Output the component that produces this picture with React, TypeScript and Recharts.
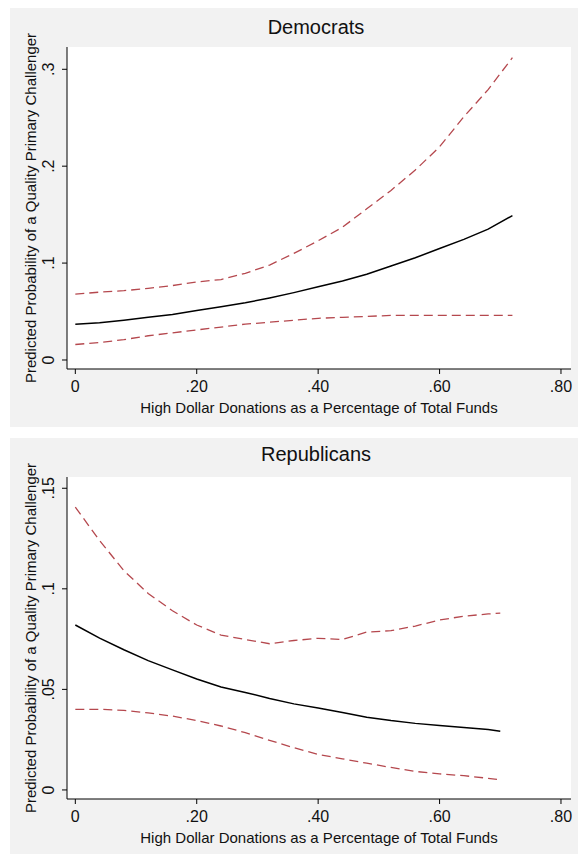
import { LineChart, Line, XAxis, YAxis, CartesianGrid } from "recharts";

const FONT = '"Liberation Sans", Arial, Helvetica, sans-serif';
const RED = "#b5484e";

// Democrats
const demX = [0, 0.04, 0.08, 0.12, 0.16, 0.2, 0.24, 0.28, 0.32, 0.36, 0.4, 0.44, 0.48, 0.52, 0.56, 0.6, 0.64, 0.68, 0.72];
const demFit = [0.037, 0.0385, 0.041, 0.044, 0.047, 0.051, 0.055, 0.059, 0.064, 0.0695, 0.0755, 0.0815, 0.0885, 0.097, 0.1055, 0.115, 0.1245, 0.135, 0.149];
const demUpper = [0.068, 0.07, 0.0715, 0.074, 0.0768, 0.0805, 0.083, 0.0895, 0.098, 0.11, 0.123, 0.137, 0.156, 0.175, 0.196, 0.22, 0.251, 0.279, 0.312];
const demLower = [0.016, 0.018, 0.021, 0.025, 0.028, 0.031, 0.034, 0.037, 0.039, 0.041, 0.043, 0.044, 0.045, 0.046, 0.046, 0.046, 0.046, 0.046, 0.046];

// Republicans
const repX = [0, 0.04, 0.08, 0.12, 0.16, 0.2, 0.24, 0.28, 0.32, 0.36, 0.4, 0.44, 0.48, 0.52, 0.56, 0.6, 0.64, 0.68, 0.7];
const repFit = [0.082, 0.0755, 0.0697, 0.0643, 0.0597, 0.0552, 0.0512, 0.0485, 0.0455, 0.0428, 0.0408, 0.0385, 0.0362, 0.0345, 0.0331, 0.032, 0.031, 0.03, 0.0292];
const repUpper = [0.1406, 0.124, 0.109, 0.0977, 0.0891, 0.082, 0.077, 0.0748, 0.0727, 0.0743, 0.0754, 0.0748, 0.0785, 0.0792, 0.0815, 0.0845, 0.0864, 0.0875, 0.0879];
const repLower = [0.0401, 0.0401, 0.0396, 0.0383, 0.0367, 0.0345, 0.0318, 0.0285, 0.0247, 0.021, 0.0177, 0.0155, 0.0133, 0.0112, 0.0092, 0.008, 0.0071, 0.0058, 0.005];

const xTicks = [0, 0.2, 0.4, 0.6, 0.8];
const demYTicks = [0, 0.1, 0.2, 0.3];
const repYTicks = [0, 0.05, 0.1, 0.15];

const xTitle = "High Dollar Donations as a Percentage of Total Funds";
const yTitle = "Predicted Probability of a Quality Primary Challenger";

const fmtX = (v: number) => (v === 0 ? "0" : "." + Math.round(v * 100));
const fmtY = (v: number) => (v === 0 ? "0" : String(v).replace(/^0/, ""));

function rows(xs: number[], fit: number[], up: number[], lo: number[]) {
  return xs.map((x, i) => ({ x, fit: fit[i], upper: up[i], lower: lo[i] }));
}

// rotated y tick label; baseline sits 13px left of the axis line
function YTick(props: any) {
  const { y, payload } = props;
  const x = 44;
  return (
    <text x={x} y={y} transform={`rotate(-90 ${x} ${y})`} textAnchor="middle" fontSize={16} fontFamily={FONT} fill="#111">
      {fmtY(payload.value)}
    </text>
  );
}

function Panel(props: {
  title: string;
  titleTop: number;
  top: number;
  data: any[];
  yDomain: number[];
  yTicks: number[];
}) {
  const { title, titleTop, top, data, yDomain, yTicks } = props;
  return (
    <div style={{ position: "absolute", left: 10, top, width: 568, height: 419, background: "#f2f2f2" }}>
      <div
        style={{
          position: "absolute",
          left: 206,
          width: 200,
          top: titleTop,
          textAlign: "center",
          fontFamily: FONT,
          fontSize: 20,
          lineHeight: "20px",
          color: "#111",
        }}
      >
        {title}
      </div>
      <LineChart width={568} height={419} data={data} margin={{ top: 39, right: 7, left: 0, bottom: 0 }}>
        <CartesianGrid horizontal={false} vertical={false} fill="#fff" stroke="none" />
        <XAxis
          type="number"
          dataKey="x"
          domain={[-0.0137, 0.8165]}
          ticks={xTicks}
          allowDataOverflow
          height={58}
          tickSize={5}
          tickMargin={7}
          tickFormatter={fmtX}
          interval={0}
          tick={{ fontSize: 16, fill: "#111", fontFamily: FONT }}
          axisLine={{ stroke: "#000" }}
          tickLine={{ stroke: "#000" }}
          label={(p: any) => {
            const vb = p.viewBox;
            return (
              <text x={vb.x + vb.width / 2} y={vb.y + 43.5} textAnchor="middle" fontSize={15} fontFamily={FONT} fill="#111">
                {xTitle}
              </text>
            );
          }}
        />
        <YAxis
          type="number"
          domain={yDomain}
          ticks={yTicks}
          allowDataOverflow
          width={57}
          tickSize={5}
          tickMargin={8}
          interval={0}
          tick={(p: any) => <YTick {...p} />}
          axisLine={{ stroke: "#000" }}
          tickLine={{ stroke: "#000" }}
          label={(p: any) => {
            const vb = p.viewBox;
            const cx = vb.x + 26;
            const cy = vb.y + vb.height / 2;
            return (
              <text x={cx} y={cy} transform={`rotate(-90 ${cx} ${cy})`} textAnchor="middle" fontSize={15} fontFamily={FONT} fill="#111">
                {yTitle}
              </text>
            );
          }}
        />
        <Line type="linear" dataKey="upper" stroke={RED} strokeWidth={1.3} strokeDasharray="9 5" dot={false} isAnimationActive={false} />
        <Line type="linear" dataKey="lower" stroke={RED} strokeWidth={1.3} strokeDasharray="9 5" dot={false} isAnimationActive={false} />
        <Line type="linear" dataKey="fit" stroke="#000" strokeWidth={1.5} dot={false} isAnimationActive={false} />
      </LineChart>
    </div>
  );
}

export default function App() {
  return (
    <div style={{ position: "absolute", left: 0, top: 0, width: 579, height: 854, background: "#fff", overflow: "hidden" }}>
      <Panel
        title="Democrats"
        titleTop={9}
        top={8}
        data={rows(demX, demFit, demUpper, demLower)}
        yDomain={[-0.0093, 0.323]}
        yTicks={demYTicks}
      />
      <Panel
        title="Republicans"
        titleTop={6}
        top={438}
        data={rows(repX, repFit, repUpper, repLower)}
        yDomain={[-0.0045, 0.1556]}
        yTicks={repYTicks}
      />
    </div>
  );
}
